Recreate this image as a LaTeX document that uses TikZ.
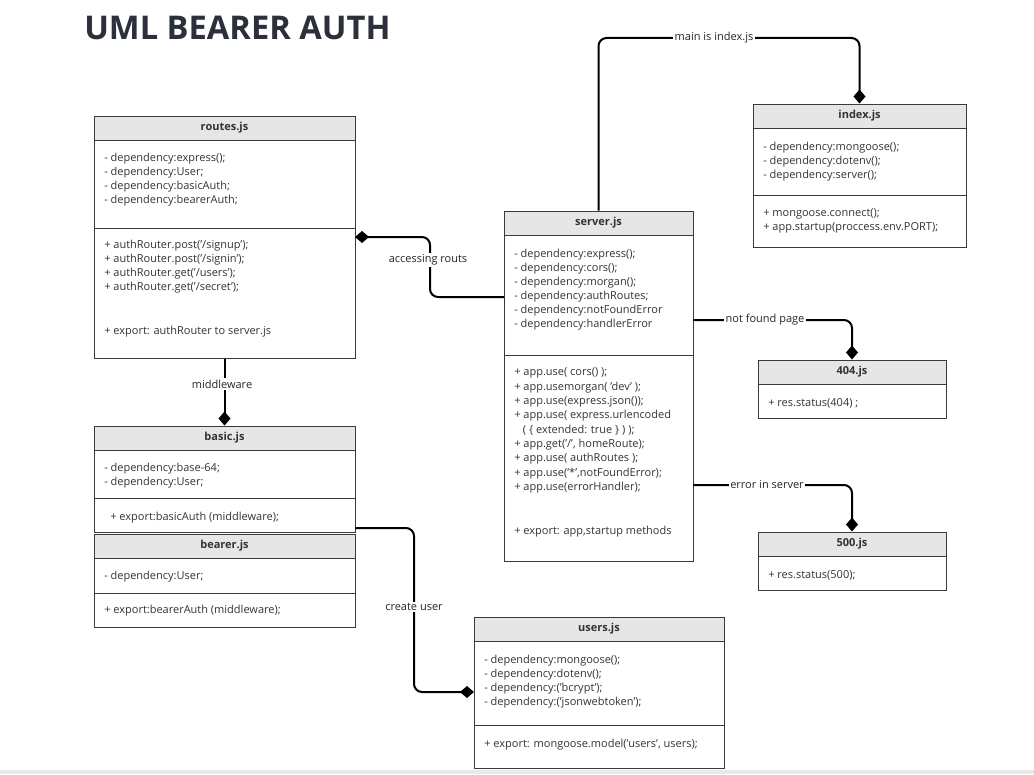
\documentclass[tikz,border=0pt]{standalone}
\usepackage{fontspec}
\setmainfont{Open Sans}
\usetikzlibrary{arrows.meta,fit,calc}
\definecolor{titlec}{HTML}{2B303B}
\definecolor{txtc}{HTML}{333333}
\definecolor{hdrc}{HTML}{E6E6E6}
\definecolor{linec}{HTML}{3A3A3A}
\tikzset{
 box/.style={draw=linec, line width=0.75pt, inner sep=0pt},
 hdr/.style={fill=hdrc},
 sep/.style={draw=linec, line width=0.75pt},
 ttl/.style={font=\fontsize{8.25}{10}\selectfont\bfseries, text=txtc, inner sep=0pt},
 body/.style={font=\fontsize{8.25}{10.5}\selectfont, text=txtc, align=left, anchor=base west, inner sep=0pt},
 conn/.style={line width=1.5pt, rounded corners=6pt, -{Diamond[length=10.5pt,width=9pt]}},
 lbl/.style={font=\fontsize{8.25}{10}\selectfont, fill=white, inner sep=1pt, text=black!85},
}
\begin{document}
\begin{tikzpicture}[x=0.75pt,y=-0.75pt]
\useasboundingbox (0,0) rectangle (1034,774);
\fill[gray!18] (0,770) rectangle (1034,774);

% title
\node[anchor=base west, inner sep=0pt, font=\fontsize{24.5}{28}\selectfont\bfseries, text=titlec] (title) at (84,40) {UML BEARER AUTH};

% routes.js (multi-line nodes: base = baseline of last line)
\fill[hdr] (94,116) rectangle (355,140);
\node[box, fit={(94,116) (355,358)}] (routes) {};
\draw[sep] (94,140) -- (355,140);
\draw[sep] (94,228) -- (355,228);
\node[ttl] (routesT) at (224.5,128) {routes.js};
\node[body] (routesA) at (104,203) {- dependency:express();\\- dependency:User;\\- dependency:basicAuth;\\- dependency:bearerAuth;};
\node[body] (routesB) at (104,290) {+ authRouter.post('/signup');\\+ authRouter.post('/signin');\\+ authRouter.get('/users');\\+ authRouter.get('/secret');};
\node[body] (routesC) at (104,334) {+ export: authRouter to server.js};

% index.js
\fill[hdr] (753,104) rectangle (966,128);
\node[box, fit={(753,104) (966,247)}] (index) {};
\draw[sep] (753,128) -- (966,128);
\draw[sep] (753,195) -- (966,195);
\node[ttl] (indexT) at (859.5,116) {index.js};
\node[body] (indexA) at (763,178) {- dependency:mongoose();\\- dependency:dotenv();\\- dependency:server();};
\node[body] (indexB) at (763,230) {+ mongoose.connect();\\+ app.startup(proccess.env.PORT);};

% server.js
\fill[hdr] (504,211) rectangle (693,235);
\node[box, fit={(504,211) (693,561)}] (server) {};
\draw[sep] (504,235) -- (693,235);
\draw[sep] (504,355) -- (693,355);
\node[ttl] (serverT) at (598.5,223) {server.js};
\node[body] (serverA) at (514,327) {- dependency:express();\\- dependency:cors();\\- dependency:morgan();\\- dependency:authRoutes;\\- dependency:notFoundError\\- dependency:handlerError};
\node[body, font=\fontsize{8.25}{10.72}\selectfont] (serverB) at (514,490.3) {+ app.use( cors() );\\+ app.usemorgan( 'dev' );\\+ app.use(express.json());\\+ app.use( express.urlencoded\\\hspace*{6.5pt}( \{ extended: true \} ) );\\+ app.get('/', homeRoute);\\+ app.use( authRoutes );\\+ app.use('*',notFoundError);\\+ app.use(errorHandler);};
\node[body] (serverC) at (514,534) {+ export: app,startup methods};

% 404.js
\fill[hdr] (758,360) rectangle (946,384);
\node[box, fit={(758,360) (946,418)}] (nf) {};
\draw[sep] (758,384) -- (946,384);
\node[ttl] (nfT) at (852,372) {404.js};
\node[body] (nfA) at (768,406) {+ res.status(404) ;};

% 500.js
\fill[hdr] (758,532) rectangle (946,556);
\node[box, fit={(758,532) (946,590)}] (er) {};
\draw[sep] (758,556) -- (946,556);
\node[ttl] (erT) at (852,544) {500.js};
\node[body] (erA) at (768,578) {+ res.status(500);};

% basic.js
\fill[hdr] (94,426) rectangle (355,450);
\node[box, fit={(94,426) (355,532)}] (basic) {};
\draw[sep] (94,450) -- (355,450);
\draw[sep] (94,498) -- (355,498);
\node[ttl] (basicT) at (224.5,438) {basic.js};
\node[body] (basicA) at (104,485) {- dependency:base-64;\\- dependency:User;};
\node[body] (basicB) at (110,520) {+ export:basicAuth (middleware);};

% bearer.js
\fill[hdr] (94,534) rectangle (355,558);
\node[box, fit={(94,534) (355,627)}] (bearer) {};
\draw[sep] (94,558) -- (355,558);
\draw[sep] (94,593) -- (355,593);
\node[ttl] (bearerT) at (224.5,546) {bearer.js};
\node[body] (bearerA) at (104,579) {- dependency:User;};
\node[body] (bearerB) at (104,613) {+ export:bearerAuth (middleware);};

% users.js
\fill[hdr] (474,617) rectangle (724,641);
\node[box, fit={(474,617) (724,768)}] (users) {};
\draw[sep] (474,641) -- (724,641);
\draw[sep] (474,725) -- (724,725);
\node[ttl] (usersT) at (599,629) {users.js};
\node[body] (usersA) at (484,705) {- dependency:mongoose();\\- dependency:dotenv();\\- dependency:('bcrypt');\\- dependency:('jsonwebtoken');};
\node[body] (usersB) at (484,747) {+ export: mongoose.model('users', users);};

% connectors
\coordinate (topY) at (0,38);
\draw[conn] (server.north) -- (server.north |- topY) -| (index.north);
\node[lbl] (lMain) at (714,38) {main is index.js};

\coordinate (accS) at (504,297);
\coordinate (accE) at (355,237);
\draw[conn] (accS) -- (430,297) -- (430,237) -- (accE);
\node[lbl] (lAcc) at (428,260) {accessing routs};

\draw[conn] (routes.south) -- (basic.north);
\node[lbl] (lMid) at (222,384) {middleware};

\coordinate (nfS) at (693,320);
\draw[conn] (nfS) -| (nf.north);
\node[lbl] (lNf) at (765,320) {not found page};

\coordinate (erS) at (693,485);
\draw[conn] (erS) -| (er.north);
\node[lbl] (lEr) at (767,485) {error in server};

\coordinate (cuS) at (355,528);
\coordinate (cuE) at (474,692);
\draw[conn] (cuS) -- (414,528) -- (414,692) -- (cuE);
\node[lbl] (lCu) at (414,607) {create user};
\end{tikzpicture}
\end{document}
